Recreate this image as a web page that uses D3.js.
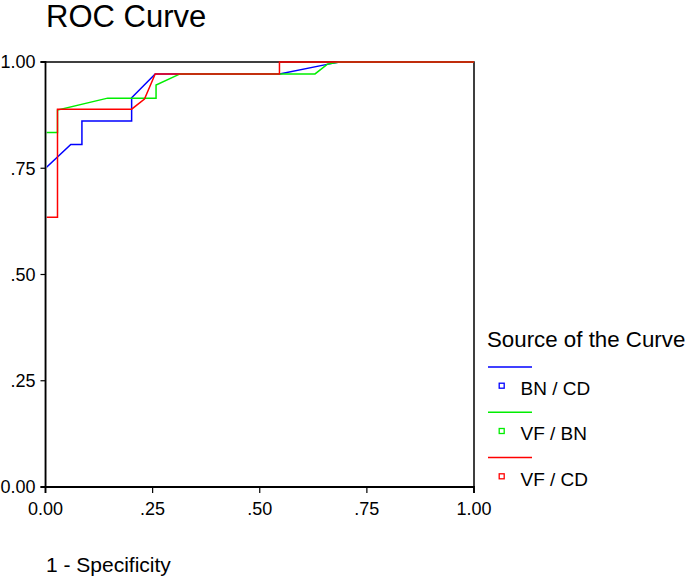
<!DOCTYPE html>
<html><head><meta charset="utf-8">
<script src="https://cdn.jsdelivr.net/npm/d3@7"></script>
<style>body{margin:0;background:#fff;} svg{display:block;} text{font-family:"Liberation Sans",Arial,sans-serif;fill:#000;}</style>
</head><body>
<svg id="c" width="685" height="578"></svg>
<script>
const title = "ROC Curve";
const xTitle = "1 - Specificity";
const legendTitle = "Source of the Curve";
const seriesNames = ["BN / CD", "VF / BN", "VF / CD"];
const seriesColors = ["#0000ff", "#00ee00", "#ff0000"];
const tickValues = [0, 0.25, 0.5, 0.75, 1];
const tickLabels = ["0.00", ".25", ".50", ".75", "1.00"];
const bnX = [0, 0, 0.059, 0.085, 0.085, 0.201, 0.201, 0.256, 0.546, 0.66, 0.686, 1];
const bnY = [0, 0.75, 0.806, 0.806, 0.861, 0.861, 0.916, 0.972, 0.972, 0.995, 1, 1];
const vfbnX = [0, 0, 0.028, 0.028, 0.145, 0.258, 0.258, 0.314, 0.629, 0.658, 0.686, 1];
const vfbnY = [0, 0.834, 0.834, 0.887, 0.915, 0.915, 0.946, 0.972, 0.972, 0.995, 1, 1];
const vfcdX = [0, 0, 0.028, 0.028, 0.201, 0.231, 0.256, 0.546, 0.546, 1];
const vfcdY = [0, 0.635, 0.635, 0.889, 0.889, 0.913, 0.972, 0.972, 1, 1];
const seriesX = [bnX, vfbnX, vfcdX];
const seriesY = [bnY, vfbnY, vfcdY];

const svg = d3.select("#c");
const x = d3.scaleLinear().domain([0, 1]).range([45.5, 474]);
const y = d3.scaleLinear().domain([0, 1]).range([487, 62]);

svg.append("text").attr("x", 46).attr("y", 27).attr("font-size", 31).text(title);

svg.append("defs").append("clipPath").attr("id", "plotclip").append("rect")
  .attr("x", x(0) + 1.2).attr("y", y(1) - 3).attr("width", x(1) - x(0) + 2).attr("height", y(0) - y(1) + 2);

// top and right frame
svg.append("path").attr("d", `M${x(0)},${y(1)}H${x(1)}V${y(0)}`)
  .attr("fill", "none").attr("stroke", "#000").attr("stroke-width", 1.5);

const line = d3.line().x(d => x(d[0])).y(d => y(d[1]));
const curves = svg.append("g").attr("clip-path", "url(#plotclip)");
seriesX.forEach((xs, i) => {
  const pts = xs.map((v, j) => [v, seriesY[i][j]]);
  curves.append("path").attr("d", line(pts)).attr("fill", "none")
    .attr("stroke", seriesColors[i]).attr("stroke-width", 1.5);
});

// axes
const xAxis = svg.append("g").attr("transform", `translate(0,${y(0)})`)
  .call(d3.axisBottom(x).offset(0).tickValues(tickValues).tickFormat((d, i) => tickLabels[i]).tickSizeOuter(0).tickSize(6).tickPadding(6));
const yAxis = svg.append("g").attr("transform", `translate(${x(0)},0)`)
  .call(d3.axisLeft(y).offset(0).tickValues(tickValues).tickFormat((d, i) => tickLabels[i]).tickSizeOuter(0).tickSize(5).tickPadding(5));
[xAxis, yAxis].forEach(g => {
  g.select(".domain").attr("stroke", "#000").attr("stroke-width", 1.8);
  g.selectAll(".tick line").attr("stroke", "#000").attr("stroke-width", 1.2);
  g.selectAll("text").attr("font-size", 18).attr("font-family", "Liberation Sans, Arial, sans-serif").attr("fill", "#000");
});
yAxis.selectAll("text").attr("dy", "0.36em");
xAxis.selectAll("text").attr("dy", "0.9em");

svg.append("text").attr("x", 46).attr("y", 572).attr("font-size", 21).text(xTitle);

// legend
svg.append("text").attr("x", 487).attr("y", 347).attr("font-size", 22.3).text(legendTitle);
seriesNames.forEach((n, i) => {
  const oy = 367 + i * 45.3;
  svg.append("line").attr("x1", 488).attr("x2", 532).attr("y1", oy).attr("y2", oy)
    .attr("stroke", seriesColors[i]).attr("stroke-width", 1.5);
  svg.append("rect").attr("x", 499.2).attr("y", oy + 16.2).attr("width", 5).attr("height", 5)
    .attr("fill", "none").attr("stroke", seriesColors[i]).attr("stroke-width", 1.3);
  svg.append("text").attr("x", 520.5).attr("y", oy + 28).attr("font-size", 19).text(n);
});
</script>
</body></html>
